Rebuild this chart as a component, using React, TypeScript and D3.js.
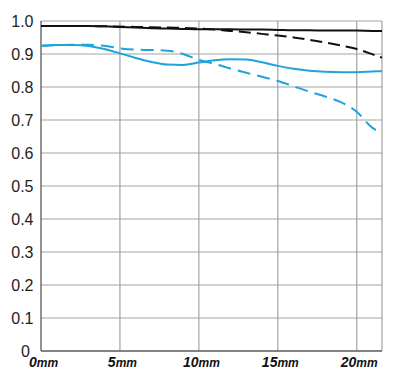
import React from "react";
import * as d3 from "d3";

const positionsMm = [0, 1, 2, 3, 4, 5, 6, 7, 8, 9, 10, 11, 12, 13, 14, 15, 16, 17, 18, 19, 20, 21, 21.6];

const black10Sagittal = [0.985, 0.985, 0.985, 0.985, 0.984, 0.982, 0.98, 0.978, 0.977, 0.976, 0.975, 0.975, 0.975, 0.974, 0.974, 0.973, 0.972, 0.972, 0.971, 0.971, 0.971, 0.97, 0.97];
const black10Meridional = [0.985, 0.985, 0.985, 0.985, 0.984, 0.983, 0.982, 0.981, 0.98, 0.979, 0.977, 0.974, 0.97, 0.966, 0.961, 0.956, 0.95, 0.943, 0.935, 0.926, 0.915, 0.899, 0.889];
const blue30Sagittal = [0.925, 0.927, 0.927, 0.924, 0.915, 0.902, 0.888, 0.876, 0.868, 0.867, 0.874, 0.881, 0.884, 0.883, 0.875, 0.864, 0.855, 0.849, 0.846, 0.845, 0.845, 0.847, 0.848];
const blue30Meridional = [0.925, 0.927, 0.928, 0.928, 0.925, 0.917, 0.913, 0.912, 0.91, 0.9, 0.882, 0.87, 0.856, 0.843, 0.831, 0.818, 0.802, 0.786, 0.771, 0.754, 0.725, 0.676, 0.661];

const yTicks = [0, 0.1, 0.2, 0.3, 0.4, 0.5, 0.6, 0.7, 0.8, 0.9, 1.0];
const yTickLabels = ["0", "0.1", "0.2", "0.3", "0.4", "0.5", "0.6", "0.7", "0.8", "0.9", "1.0"];
const xTicks = [0, 5, 10, 15, 20];
const xTickNumbers = ["0", "5", "10", "15", "20"];
const xUnit = "mm";
const xMax = 21.6;

const BLUE = "#1fa3dc";
const BLACK = "#111";
const GRID = "#a3a3a3";
const AXIS = "#5a5a5a";

export default function App() {
  const W = 400, H = 379;
  const x = d3.scaleLinear().domain([0, xMax]).range([41, 382]);
  const y = d3.scaleLinear().domain([0, 1]).range([351, 21]);

  const line = d3
    .line<[number, number]>()
    .x((d) => x(d[0]))
    .y((d) => y(d[1]))
    .curve(d3.curveMonotoneX);

  const mk = (vals: number[]) => line(positionsMm.map((p, i) => [p, vals[i]] as [number, number])) || "";

  const series = [
    { vals: black10Sagittal, color: BLACK, dash: "" },
    { vals: black10Meridional, color: BLACK, dash: "12,6" },
    { vals: blue30Sagittal, color: BLUE, dash: "" },
    { vals: blue30Meridional, color: BLUE, dash: "13,7" },
  ];

  return (
    <svg width={W} height={H} style={{ position: "absolute", left: 0, top: 0, background: "#fff" }}>
      <rect x={0} y={0} width={W} height={H} fill="#fff" />
      {yTicks.slice(1).map((t) => (
        <line key={"h" + t} x1={x(0)} x2={x(xMax)} y1={y(t)} y2={y(t)} stroke={GRID} strokeWidth={1.2} />
      ))}
      {xTicks.slice(1).map((t) => (
        <line key={"v" + t} x1={x(t)} x2={x(t)} y1={y(0)} y2={y(1)} stroke={GRID} strokeWidth={1.2} />
      ))}
      <line x1={x(xMax)} x2={x(xMax)} y1={y(0)} y2={y(1)} stroke={GRID} strokeWidth={1.2} />
      <line x1={x(0)} x2={x(0)} y1={y(0)} y2={y(1)} stroke={AXIS} strokeWidth={1.3} />
      <line x1={x(0)} x2={x(xMax)} y1={y(0)} y2={y(0)} stroke={AXIS} strokeWidth={1.3} />

      {series.map((s, i) => (
        <path key={i} d={mk(s.vals)} fill="none" stroke={s.color} strokeWidth={2} strokeDasharray={s.dash || undefined} />
      ))}

      {yTicks.map((t, i) => (
        <text
          key={"yl" + t}
          x={t === 0 ? 30 : 33.5}
          y={y(t)}
          dy="0.36em"
          textAnchor="end"
          fontFamily="'Liberation Sans', Arial, sans-serif"
          fontSize={16}
          fill="#222"
        >
          {yTickLabels[i]}
        </text>
      ))}

      {xTicks.map((t, i) => (
        <text
          key={"xl" + t}
          x={x(t) + 2.5}
          y={367}
          textAnchor="middle"
          fontStyle="italic"
          fontWeight="bold"
          fill="#111"
        >
          <tspan fontFamily="'Liberation Sans Narrow', 'Liberation Sans', Arial, sans-serif" fontSize={14}>
            {xTickNumbers[i]}
          </tspan>
          <tspan fontFamily="'Liberation Sans', Arial, sans-serif" fontSize={12}>
            {xUnit}
          </tspan>
        </text>
      ))}
    </svg>
  );
}
